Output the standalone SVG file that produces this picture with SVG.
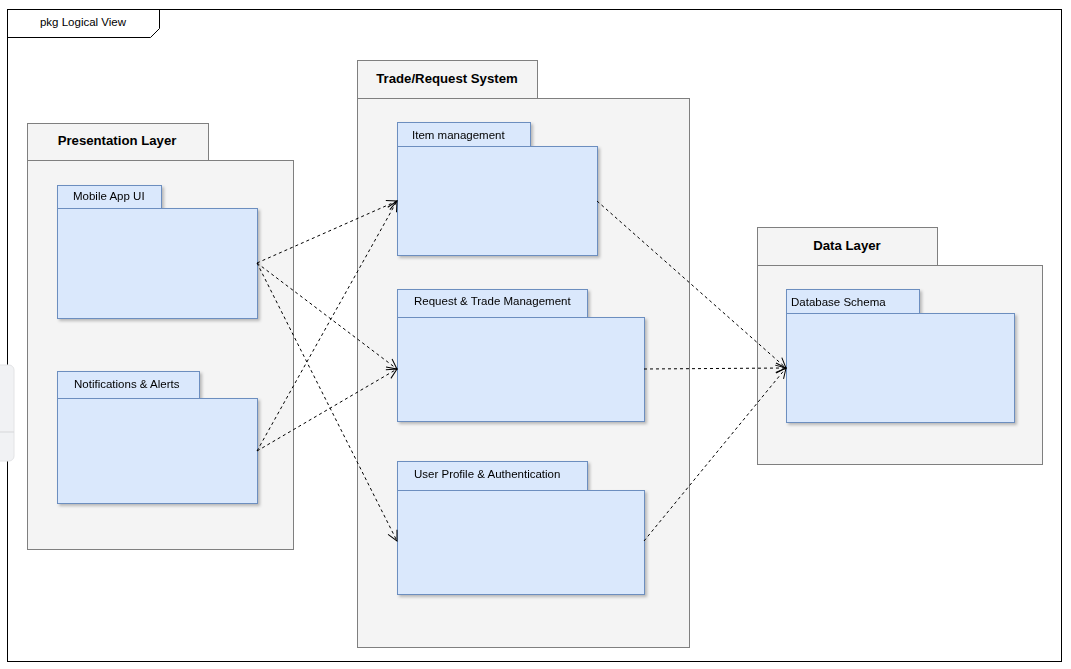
<svg xmlns="http://www.w3.org/2000/svg" width="1071" height="669" viewBox="0 0 1071 669">
  <defs>
    <style>
      .frame { fill: #ffffff; stroke: #000000; stroke-width: 1; }
      .layer { fill: #f4f4f4; stroke: #7f7f7f; stroke-width: 1; }
      .pkg { fill: #dae8fc; stroke: #6c8ebf; stroke-width: 1; }
      .title { font-family: "Liberation Sans", Arial, sans-serif; font-size: 13.2px; font-weight: bold; fill: #000000; text-anchor: middle; }
      .label { font-family: "Liberation Sans", Arial, sans-serif; font-size: 11.5px; fill: #000000; }
      .dep { fill: none; stroke: #000000; stroke-width: 1; stroke-dasharray: 3 3; }
    </style>
    <filter id="shadow" x="-10%" y="-10%" width="120%" height="130%">
      <feDropShadow dx="2" dy="2" stdDeviation="1.5" flood-color="#000000" flood-opacity="0.25"/>
    </filter>
    <marker id="open" viewBox="0 0 12 12" refX="11" refY="6" markerWidth="12" markerHeight="12" markerUnits="userSpaceOnUse" orient="auto">
      <path d="M1,1 L11,6 L1,11" fill="none" stroke="#000000" stroke-width="1"/>
    </marker>
  </defs>

  <rect width="1071" height="669" fill="#ffffff"/>

  <!-- package frame -->
  <g id="frame">
    <rect class="frame" x="7.5" y="9.5" width="1054" height="652"/>
    <path d="M7.5,37.5 L150.5,37.5 L159.5,28.5 L159.5,9.5" fill="none" stroke="#000000"/>
    <text class="label" x="83" y="26" text-anchor="middle" font-size="10.5">pkg Logical View</text>
  </g>

  <!-- side panel handle -->
  <g id="side-panel">
    <rect x="-8" y="365" width="22" height="96" rx="5" fill="#f1f2f4" stroke="#e3e4e6"/>
    <line x1="0" y1="432" x2="14" y2="432" stroke="#d6d7d9"/>
  </g>

  <!-- Presentation Layer -->
  <g id="presentation-layer">
    <rect class="layer" x="27.5" y="123.5" width="181" height="37"/>
    <rect class="layer" x="27.5" y="160.5" width="266" height="389"/>
    <text class="title" x="117" y="145">Presentation Layer</text>
  </g>
  <g id="mobile-app-ui" filter="url(#shadow)">
    <rect class="pkg" x="57.5" y="185.5" width="104" height="23"/>
    <rect class="pkg" x="57.5" y="208.5" width="200" height="110"/>
    <text class="label" x="73" y="200">Mobile App UI</text>
  </g>
  <g id="notifications-alerts" filter="url(#shadow)">
    <rect class="pkg" x="57.5" y="371.5" width="142" height="27"/>
    <rect class="pkg" x="57.5" y="398.5" width="200" height="105"/>
    <text class="label" x="74" y="388">Notifications &amp; Alerts</text>
  </g>

  <!-- Trade/Request System -->
  <g id="trade-request-system">
    <rect class="layer" x="357.5" y="60.5" width="180" height="38"/>
    <rect class="layer" x="357.5" y="98.5" width="332" height="549"/>
    <text class="title" x="447" y="83">Trade/Request System</text>
  </g>
  <g id="item-management" filter="url(#shadow)">
    <rect class="pkg" x="397.5" y="122.5" width="133" height="24"/>
    <rect class="pkg" x="397.5" y="146.5" width="200" height="109"/>
    <text class="label" x="412" y="139">Item management</text>
  </g>
  <g id="request-trade-management" filter="url(#shadow)">
    <rect class="pkg" x="397.5" y="289.5" width="190" height="28"/>
    <rect class="pkg" x="397.5" y="317.5" width="247" height="104"/>
    <text class="label" x="414" y="305">Request &amp; Trade Management</text>
  </g>
  <g id="user-profile-authentication" filter="url(#shadow)">
    <rect class="pkg" x="397.5" y="461.5" width="190" height="29"/>
    <rect class="pkg" x="397.5" y="490.5" width="247" height="104"/>
    <text class="label" x="414" y="478">User Profile &amp; Authentication</text>
  </g>

  <!-- Data Layer -->
  <g id="data-layer">
    <rect class="layer" x="757.5" y="227.5" width="180" height="38"/>
    <rect class="layer" x="757.5" y="265.5" width="285" height="199"/>
    <text class="title" x="847" y="250">Data Layer</text>
  </g>
  <g id="database-schema" filter="url(#shadow)">
    <rect class="pkg" x="786.5" y="289.5" width="133" height="24"/>
    <rect class="pkg" x="786.5" y="313.5" width="228" height="109"/>
    <text class="label" x="791" y="306">Database Schema</text>
  </g>

  <!-- dependencies -->
  <g id="connectors">
    <line class="dep" x1="257" y1="263" x2="397" y2="201" marker-end="url(#open)"/>
    <line class="dep" x1="257" y1="263" x2="397" y2="369" marker-end="url(#open)"/>
    <line class="dep" x1="257" y1="263" x2="397" y2="541" marker-end="url(#open)"/>
    <line class="dep" x1="257" y1="451" x2="397" y2="201" marker-end="url(#open)"/>
    <line class="dep" x1="257" y1="451" x2="397" y2="369" marker-end="url(#open)"/>
    <line class="dep" x1="597" y1="201" x2="786" y2="368" marker-end="url(#open)"/>
    <line class="dep" x1="644" y1="369" x2="786" y2="368" marker-end="url(#open)"/>
    <line class="dep" x1="644" y1="541" x2="786" y2="368" marker-end="url(#open)"/>
  </g>
</svg>
